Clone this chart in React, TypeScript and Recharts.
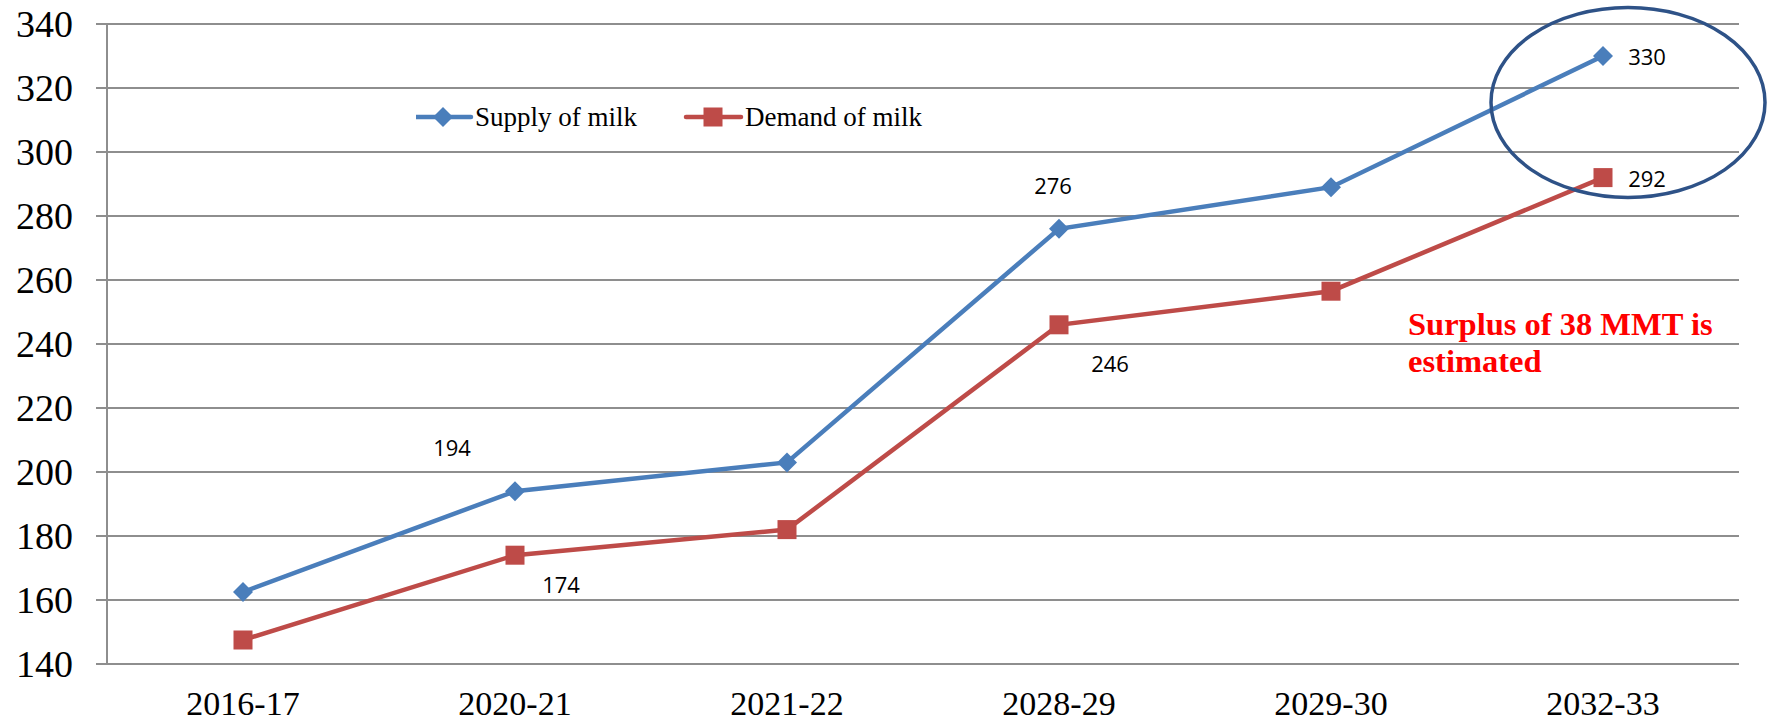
import { CartesianGrid, LabelList, Legend, Line, LineChart, ReferenceDot, XAxis, YAxis } from "recharts";

const years = ["2016-17", "2020-21", "2021-22", "2028-29", "2029-30", "2032-33"];
const supplyOfMilk = [162.5, 194, 203, 276, 289, 330];
const demandOfMilk = [147.5, 174, 182, 246, 256.5, 292];
const yTicks = [140, 160, 180, 200, 220, 240, 260, 280, 300, 320, 340];
const boundaryTicks = [0, 1, 2, 3, 4, 5, 6];
const highlightYear = "2032-33";
const highlightCentre = 315.5;
const noteLines = ["Surplus of 38 MMT is", "estimated"];

const data = years.map((year, i) => ({
  year,
  supply: supplyOfMilk[i],
  demand: demandOfMilk[i],
}));

const BLUE = "#4a7ebb";
const RED = "#be4b48";
const GRID = "#8e8e8e";
const SERIF = "'Liberation Serif', 'DejaVu Serif', serif";

// where each shown value label sits relative to its point
const supplyLabelOffsets: Record<number, [number, number]> = { 1: [-63, -44], 3: [-6, -44], 5: [44, 0] };
const demandLabelOffsets: Record<number, [number, number]> = { 1: [46, 29], 3: [51, 38], 5: [44, 0] };

const Diamond = (props: any) => {
  const { cx, cy } = props;
  if (cx == null || cy == null) return null;
  return <polygon points={`${cx},${cy - 10} ${cx + 10},${cy} ${cx},${cy + 10} ${cx - 10},${cy}`} fill={BLUE} />;
};

const Square = (props: any) => {
  const { cx, cy } = props;
  if (cx == null || cy == null) return null;
  return <rect x={cx - 9.5} y={cy - 9.5} width={19} height={19} fill={RED} />;
};

const makeLabel = (offsets: Record<number, [number, number]>) => (props: any) => {
  const { x, y, value, index } = props;
  const off = offsets[index];
  if (!off) return null;
  return (
    <text
      x={x + off[0]}
      y={y + off[1]}
      textAnchor="middle"
      dominantBaseline="central"
      fontFamily="'Open Sans', sans-serif"
      fontSize={22}
      fill="#000"
    >
      {value}
    </text>
  );
};

const LegendContent = () => (
  <svg width={530} height={30}>
    <line x1={0} y1={15} x2={55} y2={15} stroke={BLUE} strokeWidth={4.5} strokeLinecap="round" />
    <Diamond cx={27} cy={15} />
    <text x={59} y={24} fontFamily={SERIF} fontSize={27} fill="#000">
      Supply of milk
    </text>
    <line x1={270} y1={15} x2={325} y2={15} stroke={RED} strokeWidth={4.5} strokeLinecap="round" />
    <Square cx={297} cy={15} />
    <text x={329} y={24} fontFamily={SERIF} fontSize={27} fill="#000">
      Demand of milk
    </text>
  </svg>
);

export default function App() {
  return (
    <div style={{ position: "absolute", left: 0, top: 0, width: 1771, height: 725, background: "#fff" }}>
      <LineChart width={1771} height={725} data={data} margin={{ top: 24, right: 32, bottom: 0, left: 0 }}>
        <CartesianGrid vertical={false} stroke={GRID} strokeWidth={2} />
        <XAxis
          dataKey="year"
          padding={{ left: 136, right: 136 }}
          height={61}
          tickLine={false}
          tickSize={0}
          tickMargin={27}
          axisLine={{ stroke: GRID, strokeWidth: 2 }}
          tick={{ fontSize: 34, fill: "#000", fontFamily: SERIF }}
          interval={0}
        />
        <XAxis
          xAxisId="bounds"
          type="number"
          domain={[0, 6]}
          ticks={boundaryTicks}
          tick={false}
          tickSize={10}
          height={0}
          axisLine={false}
          tickLine={{ stroke: GRID, strokeWidth: 2 }}
        />
        <YAxis
          domain={[140, 340]}
          ticks={yTicks}
          width={107}
          tickSize={11}
          tickMargin={23}
          axisLine={{ stroke: GRID, strokeWidth: 2 }}
          tickLine={{ stroke: GRID, strokeWidth: 2 }}
          tick={{ fontSize: 38, fill: "#000", fontFamily: SERIF }}
          interval={0}
        />
        <Legend
          layout="horizontal"
          verticalAlign="middle"
          align="center"
          content={<LegendContent />}
          wrapperStyle={{ left: 416, top: 102, width: 530, height: 30 }}
        />
        <Line
          dataKey="supply"
          name="Supply of milk"
          stroke={BLUE}
          strokeWidth={4.5}
          dot={<Diamond />}
          activeDot={false}
          isAnimationActive={false}
        >
          <LabelList dataKey="supply" content={makeLabel(supplyLabelOffsets)} />
        </Line>
        <Line
          dataKey="demand"
          name="Demand of milk"
          stroke={RED}
          strokeWidth={4.5}
          dot={<Square />}
          activeDot={false}
          isAnimationActive={false}
        >
          <LabelList dataKey="demand" content={makeLabel(demandLabelOffsets)} />
        </Line>
        <ReferenceDot
          x={highlightYear}
          y={highlightCentre}
          r={0}
          shape={(p: any) => (
            <ellipse cx={p.cx + 25} cy={p.cy} rx={137} ry={95} fill="none" stroke="#2e5287" strokeWidth={3.5} />
          )}
        />
      </LineChart>
      <div
        style={{
          position: "absolute",
          left: 1408,
          top: 306,
          fontFamily: SERIF,
          fontWeight: "bold",
          fontSize: 32.5,
          lineHeight: "37px",
          color: "#ff0000",
          whiteSpace: "nowrap",
        }}
      >
        {noteLines.map((l) => (
          <div key={l}>{l}</div>
        ))}
      </div>
    </div>
  );
}
